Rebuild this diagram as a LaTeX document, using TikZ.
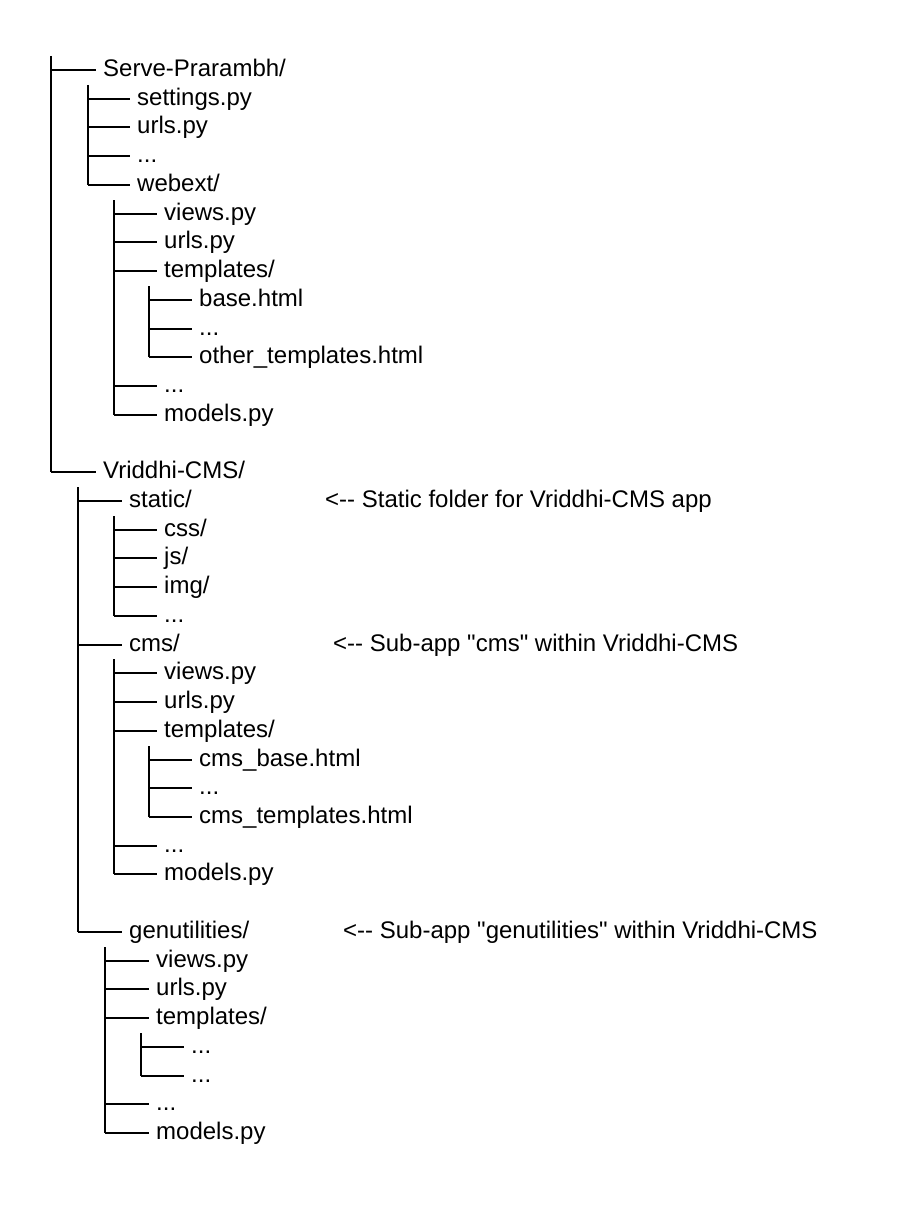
\documentclass[tikz,border=0pt]{standalone}
\usepackage{fontspec}
\newfontfamily\treefont{Liberation Sans}
\begin{document}
\begin{tikzpicture}[x=1pt,y=-1pt,
  item/.style={anchor=west,inner sep=0pt,text height=17.4pt,text depth=5pt,font=\treefont\fontsize{24}{28}\selectfont},
  conn/.style={line width=2pt,black}]
\useasboundingbox (0,0) rectangle (920,1220);
\newcommand\ry[1]{round(70+28.73*#1)}
\newcommand\branch[2]{\draw[conn] (#1 |- #2.west) -- ([xshift=-7.5pt]#2.west);}
\newcommand\trunk[2]{\draw[conn] (#1) -- (#1 |- #2.west);}
% nodes
\node[item] (n0) at (103,{\ry{0}}) {Serve-Prarambh/};
\node[item] (n1) at (137,{\ry{1}}) {settings.py};
\node[item] (n2) at (137,{\ry{2}}) {urls.py};
\node[item] (n3) at (137,{\ry{3}}) {...};
\node[item] (n4) at (137,{\ry{4}}) {webext/};
\node[item] (n5) at (164,{\ry{5}}) {views.py};
\node[item] (n6) at (164,{\ry{6}}) {urls.py};
\node[item] (n7) at (164,{\ry{7}}) {templates/};
\node[item] (n8) at (199,{\ry{8}}) {base.html};
\node[item] (n9) at (199,{\ry{9}}) {...};
\node[item] (n10) at (199,{\ry{10}}) {other\_templates.html};
\node[item] (n11) at (164,{\ry{11}}) {...};
\node[item] (n12) at (164,{\ry{12}}) {models.py};
\node[item] (n14) at (103,{\ry{14}}) {Vriddhi-CMS/};
\node[item] (n15) at (129,{\ry{15}}) {static/};
\node[item] (n16) at (164,{\ry{16}}) {css/};
\node[item] (n17) at (164,{\ry{17}}) {js/};
\node[item] (n18) at (164,{\ry{18}}) {img/};
\node[item] (n19) at (164,{\ry{19}}) {...};
\node[item] (n20) at (129,{\ry{20}}) {cms/};
\node[item] (n21) at (164,{\ry{21}}) {views.py};
\node[item] (n22) at (164,{\ry{22}}) {urls.py};
\node[item] (n23) at (164,{\ry{23}}) {templates/};
\node[item] (n24) at (199,{\ry{24}}) {cms\_base.html};
\node[item] (n25) at (199,{\ry{25}}) {...};
\node[item] (n26) at (199,{\ry{26}}) {cms\_templates.html};
\node[item] (n27) at (164,{\ry{27}}) {...};
\node[item] (n28) at (164,{\ry{28}}) {models.py};
\node[item] (n30) at (129,{\ry{30}}) {genutilities/};
\node[item] (n31) at (156,{\ry{31}}) {views.py};
\node[item] (n32) at (156,{\ry{32}}) {urls.py};
\node[item] (n33) at (156,{\ry{33}}) {templates/};
\node[item] (n34) at (191,{\ry{34}}) {...};
\node[item] (n35) at (191,{\ry{35}}) {...};
\node[item] (n36) at (156,{\ry{36}}) {...};
\node[item] (n37) at (156,{\ry{37}}) {models.py};
% comments
\node[item] (c15) at (325,{\ry{15}}) {<-{}- Static folder for Vriddhi-CMS app};
\node[item] (c20) at (333,{\ry{20}}) {<-{}- Sub-app "cms" within Vriddhi-CMS};
\node[item] (c30) at (343,{\ry{30}}) {<-{}- Sub-app "genutilities" within Vriddhi-CMS};
% trunks
\coordinate (tA) at (51,{\ry{0}-14});
\coordinate (tB) at (88,{\ry{1}-14});
\coordinate (tC) at (114,{\ry{5}-14});
\coordinate (tD) at (149,{\ry{8}-14});
\coordinate (tE) at (78,{\ry{15}-14});
\coordinate (tF) at (114,{\ry{16}-14});
\coordinate (tG) at (114,{\ry{21}-14});
\coordinate (tH) at (149,{\ry{24}-14});
\coordinate (tI) at (105,{\ry{31}-14});
\coordinate (tJ) at (141,{\ry{34}-14});
\trunk{tA}{n14} \branch{tA}{n0} \branch{tA}{n14}
\trunk{tB}{n4} \branch{tB}{n1} \branch{tB}{n2} \branch{tB}{n3} \branch{tB}{n4}
\trunk{tC}{n12} \branch{tC}{n5} \branch{tC}{n6} \branch{tC}{n7} \branch{tC}{n11} \branch{tC}{n12}
\trunk{tD}{n10} \branch{tD}{n8} \branch{tD}{n9} \branch{tD}{n10}
\trunk{tE}{n30} \branch{tE}{n15} \branch{tE}{n20} \branch{tE}{n30}
\trunk{tF}{n19} \branch{tF}{n16} \branch{tF}{n17} \branch{tF}{n18} \branch{tF}{n19}
\trunk{tG}{n28} \branch{tG}{n21} \branch{tG}{n22} \branch{tG}{n23} \branch{tG}{n27} \branch{tG}{n28}
\trunk{tH}{n26} \branch{tH}{n24} \branch{tH}{n25} \branch{tH}{n26}
\trunk{tI}{n37} \branch{tI}{n31} \branch{tI}{n32} \branch{tI}{n33} \branch{tI}{n36} \branch{tI}{n37}
\trunk{tJ}{n35} \branch{tJ}{n34} \branch{tJ}{n35}
\end{tikzpicture}
\end{document}
